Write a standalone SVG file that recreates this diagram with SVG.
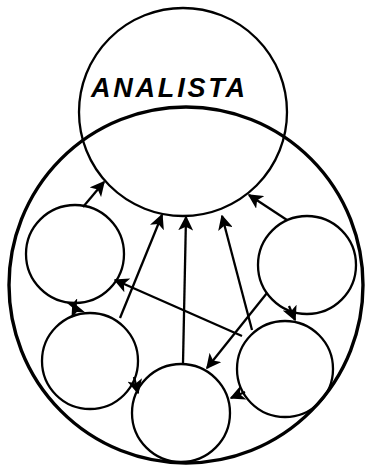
<svg xmlns="http://www.w3.org/2000/svg" width="365" height="469" viewBox="0 0 365 469">
<style>
.c{fill:none;stroke:#000;stroke-width:2.3}
.big{fill:none;stroke:#000;stroke-width:3.4}
.l{fill:none;stroke:#000;stroke-width:2.3;marker-end:url(#ah)}
.t{font-family:"Liberation Sans",Arial,sans-serif;font-style:italic;font-weight:bold;font-size:27px;fill:#000}
</style>
<defs>
<marker id="ah" viewBox="0 0 10 10" refX="9" refY="5" markerWidth="6.5" markerHeight="6.5" orient="auto" markerUnits="strokeWidth">
<path d="M0,0 L10,5 L0,10 L2.5,5 z" fill="#000"/>
</marker>
<marker id="ahs" viewBox="0 0 10 10" refX="1" refY="5" markerWidth="5" markerHeight="5" orient="auto" markerUnits="strokeWidth">
<path d="M10,0 L0,5 L10,10 L7.5,5 z" fill="#000"/>
</marker>
</defs>
<rect width="365" height="469" fill="#fff"/>
<g id="sistema"><ellipse class="big" cx="186" cy="285" rx="177" ry="178"/></g>
<g id="analista">
<circle class="c" cx="183" cy="112" r="104"/>
<text class="t" x="91" y="97" textLength="154" lengthAdjust="spacing">ANALISTA</text>
</g>
<g id="n1"><circle class="c" cx="75" cy="254" r="49"/></g>
<g id="n2"><circle class="c" cx="90" cy="361" r="48"/></g>
<g id="n3"><circle class="c" cx="181" cy="413" r="49"/></g>
<g id="n4"><circle class="c" cx="285" cy="369" r="48"/></g>
<g id="n5"><circle class="c" cx="307" cy="265" r="49"/></g>
<g id="connectors">
<line class="l" x1="83" y1="207" x2="104" y2="182"/>
<line class="l" x1="120" y1="318" x2="162" y2="215"/>
<line class="l" x1="183" y1="363" x2="186" y2="217"/>
<line class="l" x1="252" y1="330" x2="222" y2="216"/>
<line class="l" x1="287" y1="220" x2="249" y2="195"/>
<line class="l" x1="242" y1="336" x2="115" y2="280"/>
<line class="l" x1="267" y1="293" x2="207" y2="368"/>
<line class="l" x1="76" y1="310" x2="73" y2="303" style="marker-start:url(#ahs)"/>
<line class="l" x1="289" y1="306" x2="295" y2="320"/>
<line class="l" x1="134" y1="377" x2="138" y2="393"/>
<line class="l" x1="245" y1="392" x2="231" y2="398"/>
</g>
</svg>
